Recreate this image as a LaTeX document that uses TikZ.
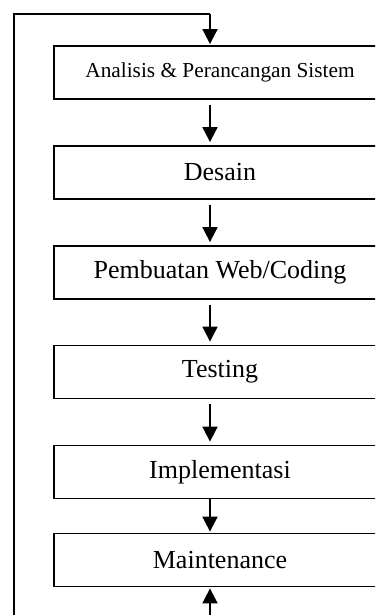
\documentclass[tikz,border=0pt]{standalone}
\usepackage{fontspec}
\setmainfont{Liberation Serif}
\usetikzlibrary{arrows.meta,positioning}
\tikzset
{
    prosesbox/.style = {rectangle, draw=black, line width=1.8pt, align=center, minimum width=332pt, minimum height=53pt, inner sep=0pt, font=\fontsize{26}{30}\selectfont},
    panah/.style = {line width=1.8pt, -{Triangle[width=15pt,length=15pt]}}
}
\begin{document}
\begin{tikzpicture}[x=1pt,y=-1pt]
\clip (0,0) rectangle (375,615);
\coordinate (ax) at (210,0);
\coordinate (kiriatas) at (14,14);
\coordinate (kananatas) at (210,14);
\coordinate (kiribawah) at (14,625);
\coordinate (kananbawah) at (210,625);
\node[prosesbox,font=\fontsize{21.3}{25}\selectfont] (analisis) at (220,72.5) {Analisis \& Perancangan Sistem};
\node[prosesbox] (desain) at (220,172.5) {Desain};
\node[prosesbox] (coding) at (220,272.5) {Pembuatan Web/Coding};
\node[prosesbox] (testing) at (220,372) {Testing};
\node[prosesbox] (implementasi) at (220,472) {Implementasi};
\node[prosesbox] (maintenance) at (220,560) {Maintenance};
% alur utama
\draw[panah,shorten <=5pt,shorten >=3pt] (analisis.south -| ax) -- (desain.north -| ax);
\draw[panah,shorten <=5pt,shorten >=3pt] (desain.south -| ax) -- (coding.north -| ax);
\draw[panah,shorten <=5pt,shorten >=3pt] (coding.south -| ax) -- (testing.north -| ax);
\draw[panah,shorten <=5pt,shorten >=3pt] (testing.south -| ax) -- (implementasi.north -| ax);
\draw[panah,shorten >=1pt] (implementasi.south -| ax) -- (maintenance.north -| ax);
% umpan balik
\draw[line width=1.8pt] (kiribawah) -- (kiriatas) -- (kananatas);
\draw[panah,shorten >=1pt] (kananatas) -- (analisis.north -| ax);
\draw[panah,shorten >=1pt] (kananbawah) -- (maintenance.south -| ax);
\end{tikzpicture}
\end{document}
